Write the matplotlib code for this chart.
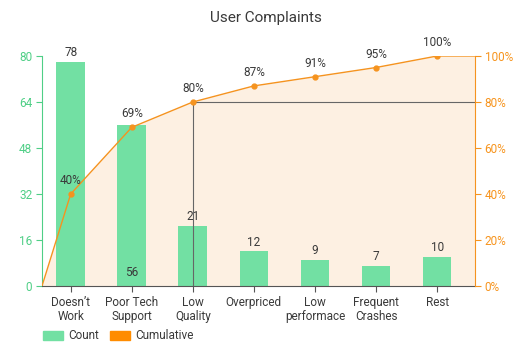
import matplotlib.pyplot as plt
import matplotlib.patches as mpatches
import numpy as np

plt.rcParams['font.family'] = ['Roboto', 'DejaVu Sans']

categories = ["Doesn\u2019t\nWork", "Poor Tech\nSupport", "Low\nQuality", "Overpriced",
              "Low\nperformace", "Frequent\nCrashes", "Rest"]
counts = [78, 56, 21, 12, 9, 7, 10]
cum_pct = [40, 69, 80, 87, 91, 95, 100]
left_ticks = [0, 16, 32, 48, 64, 80]
right_ticks = [0, 20, 40, 60, 80, 100]

GREEN = "#72e0a3"
GREEN_TXT = "#4fcf86"
ORANGE = "#f5931f"
ORANGE_TXT = "#f7941d"
FILL = "#fdf0e2"
TEXT = "#3a3a3a"

fig = plt.figure(figsize=(5.31, 3.54), dpi=100)
ax = fig.add_axes([0.0791, 0.1921, 0.8154, 0.6497])
ax2 = ax.twinx()

x = np.arange(len(categories))
x0, x1 = -0.47, 6.62

# cumulative area + line, running edge to edge
lx = np.concatenate([[x0], x, [x1]])
ly = np.concatenate([[0], cum_pct, [cum_pct[-1]]])
ax.fill_between(lx, ly * 80 / 100, 0, color=FILL, lw=0, zorder=0)

ax.bar(x, counts, width=0.47, color=GREEN, zorder=2)

ax2.plot(lx, ly, color=ORANGE, lw=1.0, zorder=3)
ax2.plot(x, cum_pct, 'o', color=ORANGE, ms=3.5, zorder=3)

# 80% reference lines
ax2.plot([2, 2], [0, 80], color="#666666", lw=0.8, zorder=2)
ax2.plot([2, x1], [80, 80], color="#666666", lw=0.8, zorder=2)

# labels
for i, (c, p) in enumerate(zip(counts, cum_pct)):
    if i == 1:
        ax.text(i, 2.5, str(c), ha='center', va='bottom', fontsize=8.5, color=TEXT, zorder=5)
    else:
        ax.text(i, c + 1, str(c), ha='center', va='bottom', fontsize=8.5, color=TEXT, zorder=5)
    ax2.text(i, p + 3, f"{p}%", ha='center', va='bottom', fontsize=8.5, color=TEXT, zorder=5)

ax.set_xlim(x0, x1)
ax.set_ylim(0, 80)
ax2.set_ylim(0, 100)
ax.set_xticks(x)
ax.set_xticklabels(categories, fontsize=8.5, color=TEXT, linespacing=1.1)
ax.set_yticks(left_ticks)
ax.set_yticklabels([str(t) for t in left_ticks], fontsize=8.5, color=GREEN_TXT)
ax2.set_yticks(right_ticks)
ax2.set_yticklabels([f"{t}%" for t in right_ticks], fontsize=8.5, color=ORANGE_TXT)

for a in (ax, ax2):
    a.spines['top'].set_visible(False)
ax.spines['right'].set_visible(False)
ax2.spines['left'].set_visible(False)
ax2.spines['bottom'].set_visible(False)
ax.spines['left'].set_color(GREEN_TXT)
ax2.spines['right'].set_color(ORANGE)
ax.spines['bottom'].set_color("#555555")
ax.tick_params(axis='y', colors=GREEN_TXT, length=4, width=0.8, pad=3, labelcolor=GREEN_TXT)
ax.tick_params(axis='x', colors="#555555", length=4, width=0.8, pad=3, labelcolor=TEXT)
ax2.tick_params(axis='y', colors=ORANGE, length=4, width=0.8, pad=3, labelcolor=ORANGE_TXT)

fig.text(0.5, 0.949, "User Complaints", ha='center', va='center', fontsize=11, color=TEXT)

handles = [mpatches.Patch(color=GREEN, label="Count"),
           mpatches.Patch(color="#ff8c00", label="Cumulative")]
fig.legend(handles=handles, loc='center left', bbox_to_anchor=(0.081, 0.051), ncol=2,
           frameon=False, fontsize=8.5, handlelength=1.7, handleheight=0.8,
           handletextpad=0.45, columnspacing=0.9, labelcolor=TEXT,
           borderpad=0, borderaxespad=0)

fig.savefig("out.png", dpi=100)
